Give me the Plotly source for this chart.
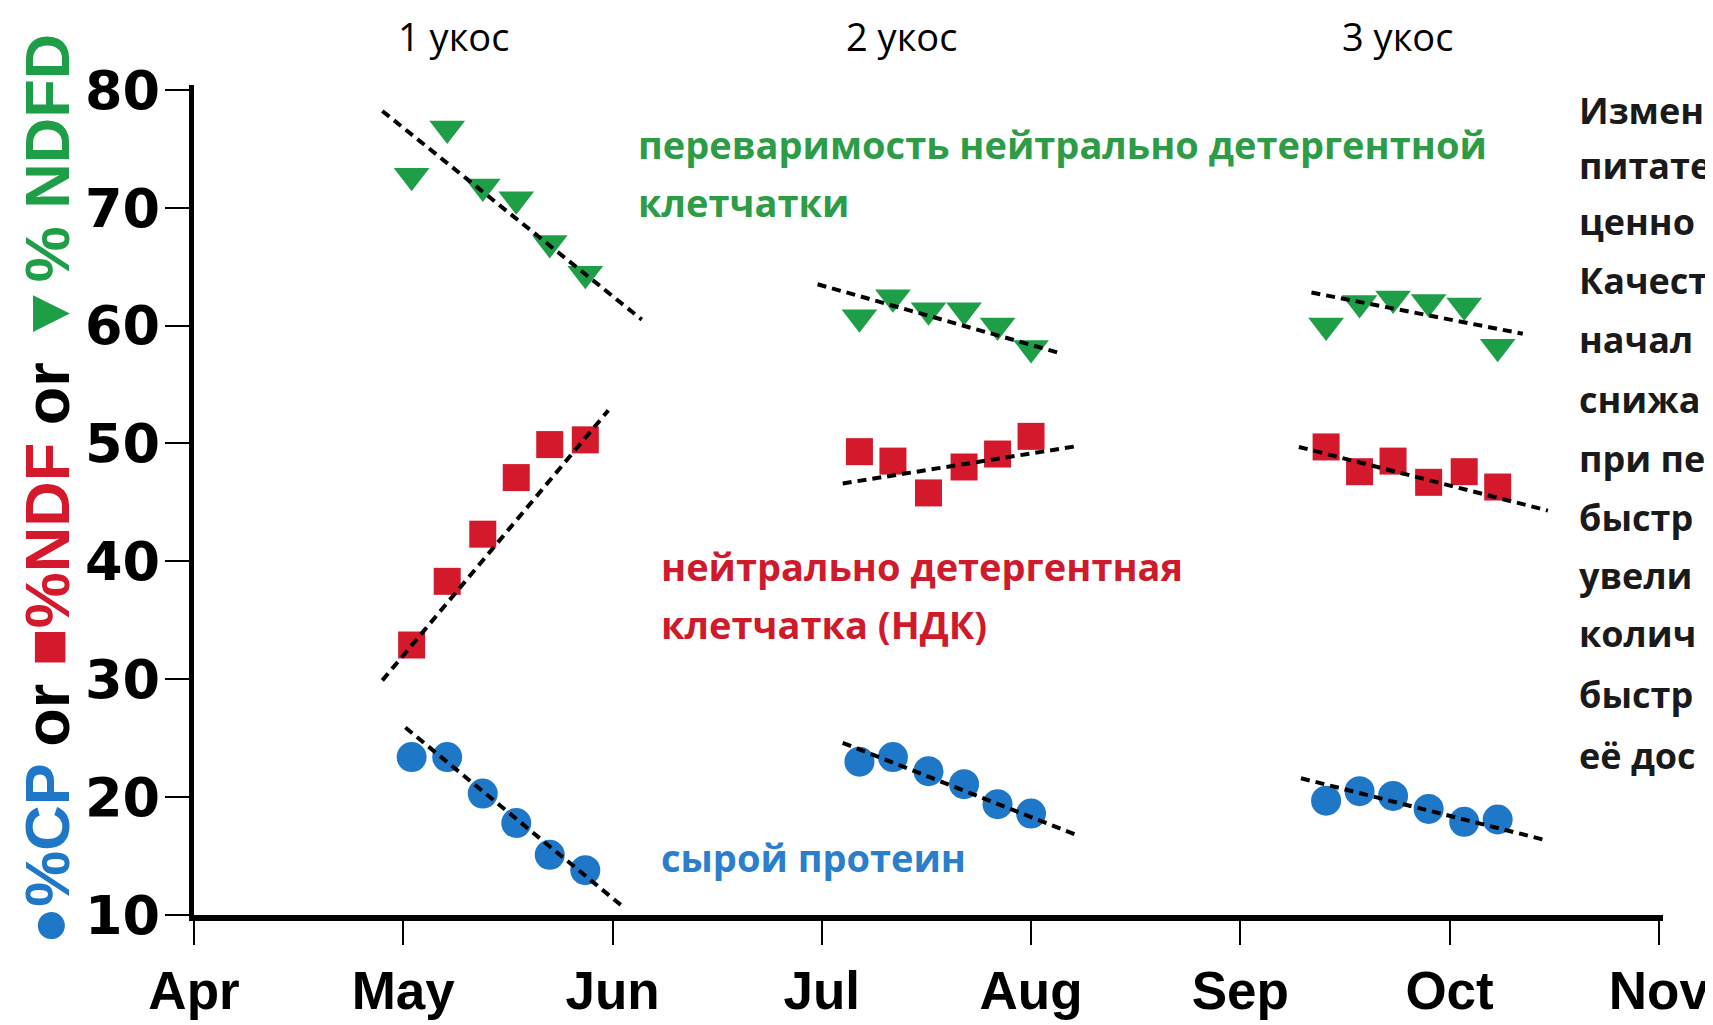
import plotly.graph_objects as go

# ---- data (x = months since 1 April) ----
month_labels = ["Apr", "May", "Jun", "Jul", "Aug", "Sep", "Oct", "Nov"]
month_ticks = [0, 1, 2, 3, 4, 5, 6, 7]

sample_x = [1.04, 1.21, 1.38, 1.54, 1.70, 1.87,
            3.18, 3.34, 3.51, 3.68, 3.84, 4.00,
            5.41, 5.57, 5.73, 5.90, 6.07, 6.23]

ndfd = [72.7, 76.7, 71.8, 70.7, 67.0, 64.4,
        60.7, 62.4, 61.3, 61.3, 60.0, 58.1,
        60.0, 61.9, 62.3, 62.0, 61.7, 58.2]

ndf = [32.9, 38.3, 42.3, 47.1, 49.9, 50.3,
       49.3, 48.5, 45.8, 48.0, 49.1, 50.6,
       49.7, 47.6, 48.5, 46.7, 47.6, 46.3]

cp = [23.4, 23.4, 20.3, 17.8, 15.1, 13.8,
      23.0, 23.4, 22.2, 21.1, 19.4, 18.6,
      19.7, 20.5, 20.1, 19.0, 17.9, 18.1]

# trend line end points per cut
ndfd_trend_x = [[0.90, 2.14], [2.98, 4.15], [5.34, 6.35]]
ndfd_trend_y = [[78.2, 60.5], [63.5, 57.6], [62.8, 59.3]]
ndf_trend_x = [[0.90, 1.98], [3.10, 4.23], [5.28, 6.47]]
ndf_trend_y = [[29.9, 52.8], [46.6, 49.8], [49.7, 44.3]]
cp_trend_x = [[1.01, 2.05], [3.10, 4.23], [5.29, 6.47]]
cp_trend_y = [[25.9, 10.7], [24.6, 16.7], [21.6, 16.3]]

cut_labels = ["1 укос", "2 укос", "3 укос"]
cut_label_x = [1.24, 3.38, 5.75]

# text at the right edge, cut off in the source image
side_text = ["Измен", "питате", "ценно", "Качест", "начал",
             "снижа", "при пе", "быстр", "увели",
             "колич", "быстр", "её дос"]
side_text_y = [77.7, 73.1, 68.3, 63.3, 58.3, 53.2, 48.2, 43.2, 38.3, 33.4, 28.2, 23.0]

GREEN = "#1f9e48"
RED = "#d3192b"
BLUE = "#1f77c8"
GREEN_T = "#2d9c46"
RED_T = "#cf1a2c"
BLUE_T = "#2a7ecb"


def seg(xs, ys):
    ox, oy = [], []
    for a, b in zip(xs, ys):
        ox += a + [None]
        oy += b + [None]
    return ox, oy


fig = go.Figure()
fig.add_trace(go.Scatter(x=sample_x, y=ndfd, mode="markers",
                         marker=dict(symbol="triangle-down", size=31, color=GREEN),
                         showlegend=False, cliponaxis=False))
fig.add_trace(go.Scatter(x=sample_x, y=ndf, mode="markers",
                         marker=dict(symbol="square", size=27, color=RED),
                         showlegend=False, cliponaxis=False))
fig.add_trace(go.Scatter(x=sample_x, y=cp, mode="markers",
                         marker=dict(symbol="circle", size=30, color=BLUE),
                         showlegend=False, cliponaxis=False))
for tx, ty in [(ndfd_trend_x, ndfd_trend_y), (ndf_trend_x, ndf_trend_y), (cp_trend_x, cp_trend_y)]:
    sx, sy = seg(tx, ty)
    fig.add_trace(go.Scatter(x=sx, y=sy, mode="lines",
                             line=dict(color="black", width=4, dash="9px,6px"),
                             showlegend=False, cliponaxis=False))

W = 1713 - 186 - 52
H = 1025 - 77 - 118

ann = []
for t, x in zip(cut_labels, cut_label_x):
    ann.append(dict(x=x, y=1 + (77 - 3) / H, xref="x", yref="paper", text=t, showarrow=False,
                    font=dict(family="Open Sans", size=38, color="black"),
                    xanchor="center", yanchor="top", yshift=3))

TXT = dict(family="Open Sans", size=38)
ann.append(dict(x=2.11, y=74.9, text="<b>переваримость нейтрально детергентной</b>",
                font=dict(TXT, color=GREEN_T)))
ann.append(dict(x=2.11, y=69.96, text="<b>клетчатки</b>", font=dict(TXT, color=GREEN_T)))
ann.append(dict(x=2.22, y=39.1, text="<b>нейтрально детергентная</b>", font=dict(TXT, color=RED_T)))
ann.append(dict(x=2.22, y=34.2, text="<b>клетчатка (НДК)</b>", font=dict(TXT, color=RED_T)))
ann.append(dict(x=2.22, y=14.45, text="<b>сырой протеин</b>", font=dict(TXT, color=BLUE_T)))
for t, y in zip(side_text, side_text_y):
    ann.append(dict(x=6.61, y=y, text="<b>" + t + "</b>", font=dict(family="Open Sans", size=36, color="#1a1a1a")))
for a in ann[3:]:
    a.update(xref="x", yref="y", showarrow=False, xanchor="left", yanchor="middle", yshift=6)

ytitle = ("<span style='color:#1f77c8'>●%CP</span> or "
          "<span style='color:#d3192b'>■%NDF</span> or "
          "<span style='color:#1f9e48'>▼% NDFD</span>")
ann.append(dict(x=(1 - 186) / W, y=(1025 - 118 - 481) / H, xref="paper", yref="paper",
                text="<b>" + ytitle + "</b>",
                showarrow=False, textangle=-90,
                font=dict(family="Liberation Sans", size=63, color="black"),
                xanchor="left", yanchor="middle"))

fig.update_layout(
    width=1713, height=1025,
    margin=dict(l=186, r=52, t=77, b=118),
    plot_bgcolor="white", paper_bgcolor="white",
    annotations=ann,
    xaxis=dict(range=[0, 7.02], tickmode="array", tickvals=month_ticks, ticktext=month_labels,
               showgrid=False, zeroline=False, showline=True, linecolor="black", linewidth=6,
               ticks="outside", ticklen=24, tickwidth=2, tickcolor="black",
               tickfont=dict(family="Liberation Sans", size=53, color="black", weight="bold")),
    yaxis=dict(range=[10, 80.4], tickmode="array", tickvals=[10, 20, 30, 40, 50, 60, 70, 80],
               showgrid=False, zeroline=False, showline=True, linecolor="black", linewidth=5,
               ticks="outside", ticklen=24, tickwidth=2, tickcolor="black", ticklabelstandoff=-6,
               tickfont=dict(family="DejaVu Sans", size=54, color="black", weight="bold")),
)

fig.write_html("out.html")
